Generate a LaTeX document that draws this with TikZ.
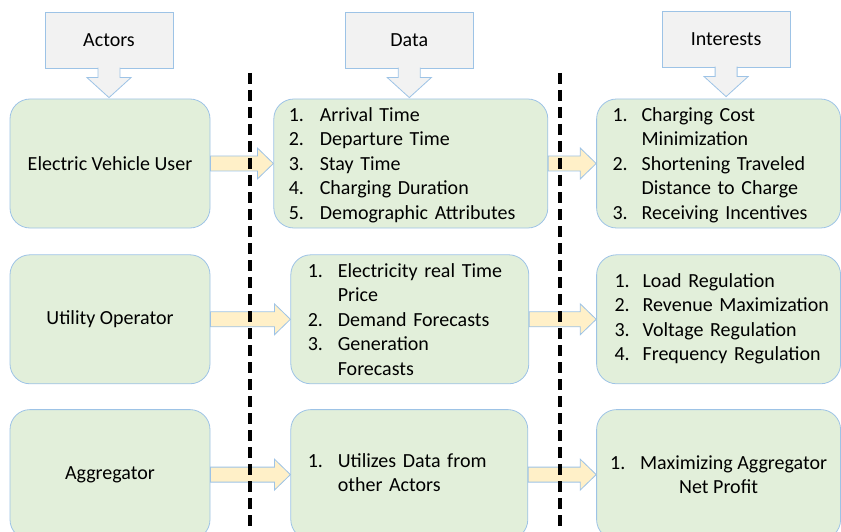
\documentclass[tikz,border=0pt]{standalone}
\usepackage{fontspec}
\setmainfont{Carlito}
\usetikzlibrary{positioning, calc}

\definecolor{boxgreen}{HTML}{E2EFDA}
\definecolor{boxline}{HTML}{9DC3E6}
\definecolor{hdrfill}{HTML}{F2F2F2}
\definecolor{flowfill}{HTML}{FFF0C8}

\begin{document}
\begin{tikzpicture}[
  x=1pt, y=-1pt,
  txt/.style={font=\fontsize{20}{24.5}\selectfont, text=black},
  actor/.style={txt, draw=boxline, fill=boxgreen, line width=0.8pt, rounded corners=20pt, minimum width=200pt, minimum height=129pt, align=center},
  listbox/.style={actor, align=left, inner ysep=2pt},
  hdr/.style={txt, draw=boxline, fill=hdrfill, line width=0.8pt, minimum width=128pt, minimum height=56pt},
  tip/.style={draw=boxline, fill=hdrfill, line width=0.8pt},
  flow/.style={draw=boxline, fill=flowfill, line width=0.8pt},
  sep/.style={line width=3.2pt, dash pattern=on 11pt off 6pt}
]
\useasboundingbox (0,0) rectangle (841,532);
\clip (0,0) rectangle (841,532);

% actors
\node[actor] (ev) at (110,163.5) {Electric Vehicle User};
\node[actor, below=26pt of ev] (util) {Utility Operator};
\node[actor, minimum height=130pt, below=25pt of util] (agg) {Aggregator};

% data
\node[listbox, minimum width=274pt, text width=244pt, inner xsep=15pt, right=63pt of ev] (evdata) {%
\raisebox{-2pt}[\height][\depth]{\begin{tabular}{@{}p{31pt}@{}l@{}}
1. & Arrival Time\\
2. & Departure Time\\
3. & Stay Time\\
4. & Charging Duration\\
5. & Demographic Attributes
\end{tabular}}};
\node[listbox, minimum width=238pt, text width=204pt, inner xsep=17pt, right=80pt of util] (utildata) {%
\raisebox{-2pt}[\height][\depth]{\begin{tabular}{@{}p{30pt}@{}l@{}}
1. & Electricity real Time\\
   & Price\\
2. & Demand Forecasts\\
3. & Generation\\
   & Forecasts
\end{tabular}}};
\node[listbox, minimum width=237pt, minimum height=130pt, text width=203pt, inner xsep=17pt, right=80pt of agg] (aggdata) {%
\begin{tabular}{@{}p{30pt}@{}l@{}}
1. & Utilizes Data from\\
   & other Actors
\end{tabular}};

% interests
\node[listbox, minimum width=244pt, text width=212pt, inner xsep=16pt, right=48pt of evdata] (evint) {%
\raisebox{-2pt}[\height][\depth]{\begin{tabular}{@{}p{29pt}@{}l@{}}
1. & Charging Cost\\
   & Minimization\\
2. & Shortening Traveled\\
   & Distance to Charge\\
3. & Receiving Incentives
\end{tabular}}};
\node[listbox, minimum width=244pt, text width=208pt, inner xsep=18pt, right=67pt of utildata] (utilint) {%
\begin{tabular}{@{}p{28pt}@{}l@{}}
1. & Load Regulation\\
2. & Revenue Maximization\\
3. & Voltage Regulation\\
4. & Frequency Regulation
\end{tabular}};
\node[actor, minimum width=244pt, minimum height=130pt, right=68pt of aggdata] (aggint) {\makebox[30pt][l]{1.}Maximizing Aggregator\\Net Profit};

% headers
\node[hdr, above=30pt of ev, xshift=-1pt] (hact) {Actors};
\node[hdr, above=30pt of evdata, xshift=-1.5pt] (hdata) {Data};
\node[hdr, above=31pt of evint, xshift=7.5pt] (hint) {Interests};
\foreach \h in {hact, hdata, hint}
  \draw[tip] ([xshift=11pt,yshift=1pt]\h.south) -- ++(0,10) -- ++(11,0)
    -- ([yshift=-29pt]\h.south) -- ++(-22,-20) -- ++(11,0)
    -- ([xshift=-11pt,yshift=1pt]\h.south);

% block arrows
\foreach \a/\b in {ev/evdata, evdata/evint, util/utildata, utildata/utilint, agg/aggdata, aggdata/aggint}
  \draw[flow] let \p1=(\a.east), \p2=(\b.west) in
    (\x1,\y1+7.5pt) -- (\x2-16pt,\y1+7.5pt) -- (\x2-16pt,\y1+15.5pt) -- (\x2,\y1)
    -- (\x2-16pt,\y1-15.5pt) -- (\x2-16pt,\y1-7.5pt) -- (\x1,\y1-7.5pt) -- cycle;

% separators
\draw[sep] (250,73) -- (250,532);
\draw[sep] (560,73) -- (560,532);
\end{tikzpicture}
\end{document}
